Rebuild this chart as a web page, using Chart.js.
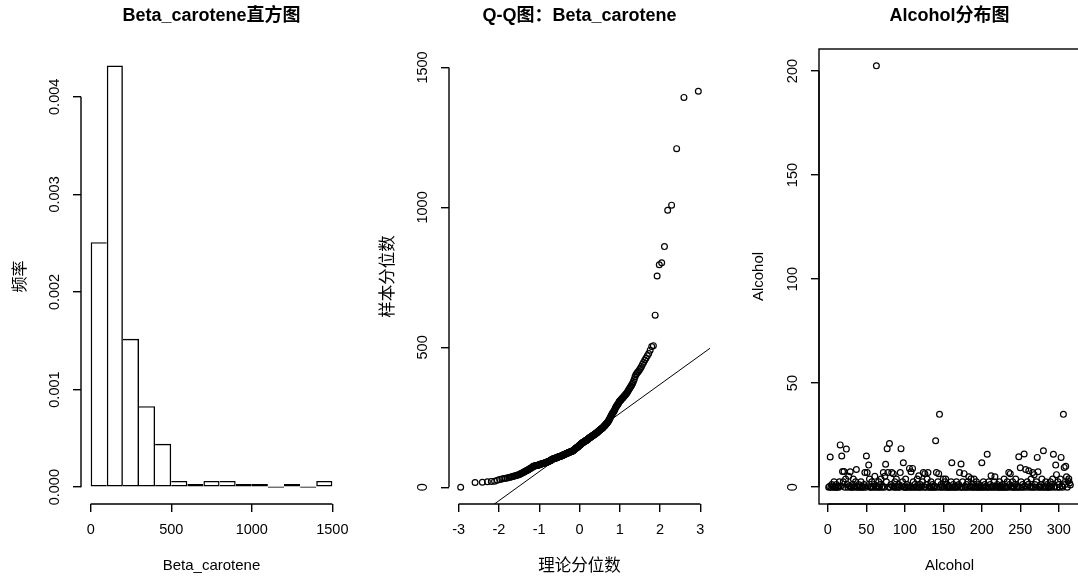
<!DOCTYPE html>
<html>
<head>
<meta charset="utf-8">
<script src="https://cdn.jsdelivr.net/npm/chart.js@4.4.1/dist/chart.umd.min.js"></script>
<style>
  html, body { margin: 0; padding: 0; overflow: hidden; background: #fff; }
  #wrap { position: relative; width: 1078px; height: 578px; overflow: hidden; }
  .panel { position: absolute; top: 0; width: 369px; height: 578px; }
</style>
</head>
<body>
<div id="wrap">
  <div class="panel" style="left:0"><canvas id="histChart" width="369" height="578"></canvas></div>
  <div class="panel" style="left:368px"><canvas id="qqChart" width="369" height="578"></canvas></div>
  <div class="panel" style="left:738px"><canvas id="alcoholChart" width="369" height="578"></canvas></div>
</div>
<script>
// DATA: Beta_carotene histogram (density per 100-wide bin)
var histBreaks = [0, 100, 200, 300, 400, 500, 600, 700, 800, 900, 1000, 1100, 1200, 1300, 1400, 1500];
var histDensity = [0.00251, 0.00432, 0.00152, 0.00083, 0.000444, 0.0000635, 0.0000317, 0.0000635,
                   0.0000635, 0.0000317, 0.0000317, 0, 0.0000317, 0, 0.0000635];
var histXTicks = [0, 500, 1000, 1500];
var histYTicks = [0, 0.001, 0.002, 0.003, 0.004];

// DATA: Beta_carotene sample, sorted
var betaSorted = [
  0, 17, 18, 20, 21, 22, 25, 28, 30, 31,
  32, 33, 35, 36, 38, 39, 40, 41, 42, 44, 45, 46,
  48, 50, 51, 53, 55, 56, 58, 59, 61, 62, 64, 65, 67, 68, 70, 71, 73, 75,
  75, 76, 77, 77, 78, 78, 79, 79, 80, 80, 81, 82, 82, 83, 83, 84, 85, 85, 86, 86,
  87, 87, 88, 88, 89, 90, 90, 90, 91, 92, 93, 94, 95, 95, 96, 97, 98, 99, 100,
  101, 101, 102, 102, 103, 103, 104, 104, 105, 105, 106, 106, 107, 107, 108, 108, 109, 109, 110, 110, 111,
  111, 112, 112, 113, 113, 114, 114, 115, 116, 116, 117, 117, 118, 118, 119, 120, 120, 121, 121, 122,
  122, 123, 123, 124, 124, 125, 125, 126, 126, 127, 127, 128, 128, 129, 129, 130, 130, 131, 132,
  133, 134, 135, 136, 137, 138, 139, 140, 140, 141, 142, 143, 144, 145, 146, 147, 148, 149, 150,
  151, 152, 153, 154, 155, 156, 157, 158, 159, 160, 160, 161, 162, 163, 164, 164, 165, 166, 166, 167, 167, 168,
  169, 170, 171, 172, 173, 174, 175, 176, 177, 178, 179, 179, 180, 181, 182, 182, 183, 184, 185, 186,
  187, 188, 189, 189, 190, 191, 192, 193, 194, 195, 196, 197, 198, 199, 200,
  202, 203, 204, 205, 206, 207, 208, 209, 210, 211, 212, 213, 215, 216, 218,
  219, 221, 222, 224, 226, 227, 229, 230, 232, 235, 237, 239, 242, 245, 248, 251,
  254, 257, 260, 263, 266, 268, 270, 273, 276, 280, 284, 287, 290, 293, 295, 297, 300,
  305, 307, 309, 311, 313, 316, 318, 320, 322, 325, 327, 330, 332, 335, 338,
  342, 346, 350, 354, 358, 362, 367, 372, 378, 385, 395,
  402, 407, 411, 415, 420, 425, 432, 440, 447, 455, 462, 470, 478, 490, 503, 506,
  615, 755, 795, 802, 860, 990, 1008, 1210, 1393, 1415
];
var qqLineX = [-3.3, 3.3];
var qqLineY = [-183, 503];
var qqXTicks = [-3, -2, -1, 0, 1, 2, 3];
var qqYTicks = [0, 500, 1000, 1500];

// DATA: Alcohol by observation index
var alcohol = [
  0, 0.3, 14.5, 0, 1.3, 0, 0.6, 2.6, 0, 0, 1.3, 0, 0.3, 0, 2.6,
  20.3, 0.6, 15, 7.5, 2.6, 7.5, 0, 3.9, 18.3, 1.3, 0, 5.2, 0.6, 7.4, 0,
  0, 1.3, 3.9, 0, 0.3, 2.6, 8.5, 0, 0, 1.3, 0.6, 0, 2.6, 0, 0.3,
  0, 1.3, 7, 0, 15, 7, 0.6, 10.6, 3.9, 0, 0, 2.6, 0.3, 0, 1.3,
  5.2, 0, 202.5, 0.6, 0, 2.6, 0, 1.3, 3.9, 0, 0.3, 7, 0, 5.2, 11,
  2.6, 18.5, 7, 0, 21, 0, 1.3, 7, 0.6, 6.5, 0, 2.6, 0, 3.9, 0.3,
  0, 1.3, 0, 7, 18.5, 0.6, 2.6, 11.7, 0, 0, 3.9, 0, 1.3, 0, 0.6,
  9, 0, 7.4, 0, 9, 2.6, 0, 1.3, 0, 0.3, 3.9, 0, 5.5, 0, 1.3,
  0, 0.6, 2.6, 7, 0, 6.5, 0, 1.3, 3.9, 7, 0, 0.3, 0, 2.6, 0,
  1.3, 0, 0.6, 0, 22.3, 7, 0, 2.6, 6.5, 35, 0, 1.3, 0, 0.3, 3.9,
  0, 2.6, 3.9, 0, 1.3, 0, 0.6, 0, 0, 2.6, 11.7, 0, 1.3, 0, 0.3,
  0, 2.6, 0, 0.6, 1.3, 7, 0, 11.1, 0, 2.6, 0, 6.5, 0.3, 0, 1.3,
  0, 2.6, 5, 0, 0.6, 4, 0, 1.3, 0, 3.9, 0, 0.3, 2.6, 0, 0,
  1.3, 0, 0.6, 0, 11.7, 0, 2.6, 0, 1.3, 0.3, 0, 15.8, 0, 2.6, 0,
  1.3, 5.5, 0, 0.6, 0, 2.6, 5, 0, 0.3, 1.3, 0, 0, 2.6, 0, 0.6,
  0, 1.3, 0, 3.9, 0, 0.3, 0, 2.6, 0, 7, 1.3, 6.5, 0, 0.6, 2.6,
  0, 0, 1.3, 3.9, 0, 0.3, 0, 14.6, 0, 9.3, 2.6, 0, 1.3, 0, 15.9,
  0.6, 8.5, 0, 2.6, 1.3, 7.9, 0, 0.3, 3.9, 0, 7, 0, 6, 1.3, 0,
  2.6, 14.3, 7.4, 0, 0.6, 0, 1.3, 3.9, 0, 17.5, 0, 0.3, 2.6, 0, 1.3,
  0, 0, 0.6, 2.6, 0, 1.3, 3.9, 15.8, 0, 0.3, 10.6, 6, 0, 2.6, 1.3,
  0, 3.9, 14.3, 0.6, 0, 35, 9.5, 1.3, 10, 5, 0, 3, 4, 2, 1
];
var alcXTicks = [0, 50, 100, 150, 200, 250, 300];
var alcYTicks = [0, 50, 100, 150, 200];

var FONT = "'Liberation Sans', Arial, 'Noto Sans CJK SC', sans-serif";
var LW = 1.4;
Chart.defaults.font.family = FONT;
Chart.defaults.color = '#000';

// normal quantile (Acklam), used for qqnorm plotting positions
function qnorm(p) {
  var a = [-39.69683028665376, 220.9460984245205, -275.9285104469687, 138.3577518672690, -30.66479806614716, 2.506628277459239];
  var b = [-54.47609879822406, 161.5858368580409, -155.6989798598866, 66.80131188771972, -13.28068155288572];
  var c = [-0.007784894002430293, -0.3223964580411365, -2.400758277161838, -2.549732539343734, 4.374664141464968, 2.938163982698783];
  var d = [0.007784695709041462, 0.3224671290700398, 2.445134137142996, 3.754408661907416];
  var q, r;
  if (p < 0.02425 || p > 0.97575) {
    q = Math.sqrt(-2 * Math.log(p < 0.5 ? p : 1 - p));
    var v = (((((c[0]*q+c[1])*q+c[2])*q+c[3])*q+c[4])*q+c[5]) / ((((d[0]*q+d[1])*q+d[2])*q+d[3])*q+1);
    return p < 0.5 ? v : -v;
  }
  q = p - 0.5; r = q * q;
  return (((((a[0]*r+a[1])*r+a[2])*r+a[3])*r+a[4])*r+a[5])*q / (((((b[0]*r+b[1])*r+b[2])*r+b[3])*r+b[4])*r+1);
}

// R style axes: line from first to last tick, rotated y labels, optional box
var rAxes = {
  id: 'rAxes',
  afterDraw: function(chart, args, opts) {
    var ctx = chart.ctx, area = chart.chartArea;
    var xs = chart.scales.x, ys = chart.scales.y;
    var xt = xs.ticks, yt = ys.ticks;
    var bx = Math.round(area.left), by = Math.round(area.bottom);
    ctx.save();
    ctx.strokeStyle = '#000';
    ctx.lineWidth = LW;
    ctx.beginPath();
    ctx.moveTo(xs.getPixelForValue(xt[0].value), by);
    ctx.lineTo(xs.getPixelForValue(xt[xt.length - 1].value), by);
    ctx.moveTo(bx, ys.getPixelForValue(yt[0].value));
    ctx.lineTo(bx, ys.getPixelForValue(yt[yt.length - 1].value));
    ctx.stroke();
    if (opts.box) {
      ctx.strokeRect(bx, Math.round(area.top), Math.round(area.right - area.left), Math.round(area.bottom - area.top));
    }
    ctx.fillStyle = '#000';
    ctx.font = '14.5px ' + FONT;
    ctx.textAlign = 'center';
    ctx.textBaseline = 'middle';
    yt.forEach(function(t) {
      ctx.save();
      ctx.translate(area.left - 26.5, ys.getPixelForValue(t.value));
      ctx.rotate(-Math.PI / 2);
      ctx.fillText(t.label, 0, 0);
      ctx.restore();
    });
    ctx.restore();
  }
};

function xAxis(min, max, tickVals, title, size) {
  return {
    type: 'linear', min: min, max: max, offset: false,
    afterBuildTicks: function(s) { s.ticks = tickVals.map(function(v) { return {value: v}; }); },
    afterFit: function(s) { s.height = 74; },
    grid: { display: true, offset: false, drawOnChartArea: false, drawTicks: true, tickLength: 8, color: '#000', lineWidth: LW },
    border: { display: false },
    ticks: { color: '#000', font: { size: 14.5 }, padding: 9.3, maxRotation: 0, autoSkip: false,
             callback: function(v) { return String(v); } },
    title: { display: true, text: title, color: '#000', font: { size: size },
             padding: { top: 0, bottom: 12 - size * 0.6 } }
  };
}

function yAxis(min, max, tickVals, title, size, fmt) {
  return {
    type: 'linear', min: min, max: max, offset: false,
    afterBuildTicks: function(s) { s.ticks = tickVals.map(function(v) { return {value: v}; }); },
    afterFit: function(s) { s.width = 81; },
    grid: { display: true, offset: false, drawOnChartArea: false, drawTicks: true, tickLength: 8, color: '#000', lineWidth: LW },
    border: { display: false },
    ticks: { display: false, callback: fmt || function(v) { return String(v); } },
    title: { display: true, text: title, color: '#000', font: { size: size },
             padding: { top: 20.5 - size * 0.6, bottom: 0 } }
  };
}

function baseOptions(title, box) {
  return {
    responsive: false,
    animation: false,
    layout: { padding: { left: 0, right: 27, top: 0, bottom: 0 } },
    plugins: {
      legend: { display: false },
      tooltip: { enabled: false },
      title: { display: true, text: title, fullSize: false, color: '#000',
               font: { size: 18, weight: 'bold' }, padding: { top: 5.5, bottom: 21.9 } },
      rAxes: { box: box }
    }
  };
}

// CHART 1: histogram
var histOpts = baseOptions('Beta_carotene直方图', false);
histOpts.scales = {
  x: xAxis(-60, 1560, histXTicks, 'Beta_carotene', 15),
  y: yAxis(-0.0001727, 0.00449, histYTicks, '频率', 16, function(v) { return v.toFixed(3); })
};
new Chart(document.getElementById('histChart'), {
  type: 'bar',
  data: {
    datasets: [{
      data: histDensity.map(function(d, i) { return { x: (histBreaks[i] + histBreaks[i + 1]) / 2, y: d }; }),
      backgroundColor: 'rgba(0,0,0,0)',
      borderColor: '#000',
      // a shared edge is drawn once, by the taller of the two bars
      borderWidth: function(c) {
        var i = c.dataIndex, h = histDensity, last = h.length - 1;
        return { top: LW, bottom: LW,
                 left: (i === 0 || h[i - 1] < h[i]) ? LW : 0,
                 right: (i === last || h[i + 1] <= h[i]) ? LW : 0 };
      },
      borderSkipped: false,
      inflateAmount: 0,
      minBarLength: 1.4,
      barPercentage: 1,
      categoryPercentage: 1
    }]
  },
  options: histOpts,
  plugins: [rAxes]
});

// CHART 2: normal Q-Q plot
var qqOpts = baseOptions('Q-Q图：Beta_carotene', false);
qqOpts.scales = {
  x: xAxis(-3.24, 3.24, qqXTicks, '理论分位数', 16.5),
  y: yAxis(-59.7, 1566, qqYTicks, '样本分位数', 16.5)
};
new Chart(document.getElementById('qqChart'), {
  type: 'scatter',
  data: {
    datasets: [{
      data: betaSorted.map(function(v, i) { return { x: qnorm((i + 0.5) / betaSorted.length), y: v }; }),
      pointRadius: 2.9,
      pointBorderWidth: 1.2,
      pointBorderColor: '#000',
      pointBackgroundColor: 'rgba(0,0,0,0)'
    }, {
      data: qqLineX.map(function(x, i) { return { x: x, y: qqLineY[i] }; }),
      showLine: true,
      borderColor: '#000',
      borderWidth: 1,
      pointRadius: 0
    }]
  },
  options: qqOpts,
  plugins: [rAxes]
});

// CHART 3: Alcohol index plot
var alcOpts = baseOptions('Alcohol分布图', true);
alcOpts.scales = {
  x: xAxis(-11.56, 327.56, alcXTicks, 'Alcohol', 15),
  y: yAxis(-8.1, 210.6, alcYTicks, 'Alcohol', 15)
};
new Chart(document.getElementById('alcoholChart'), {
  type: 'scatter',
  data: {
    datasets: [{
      data: alcohol.map(function(v, i) { return { x: i + 1, y: v }; }),
      pointRadius: 2.9,
      pointBorderWidth: 1.2,
      pointBorderColor: '#000',
      pointBackgroundColor: 'rgba(0,0,0,0)'
    }]
  },
  options: alcOpts,
  plugins: [rAxes]
});
</script>
</body>
</html>
